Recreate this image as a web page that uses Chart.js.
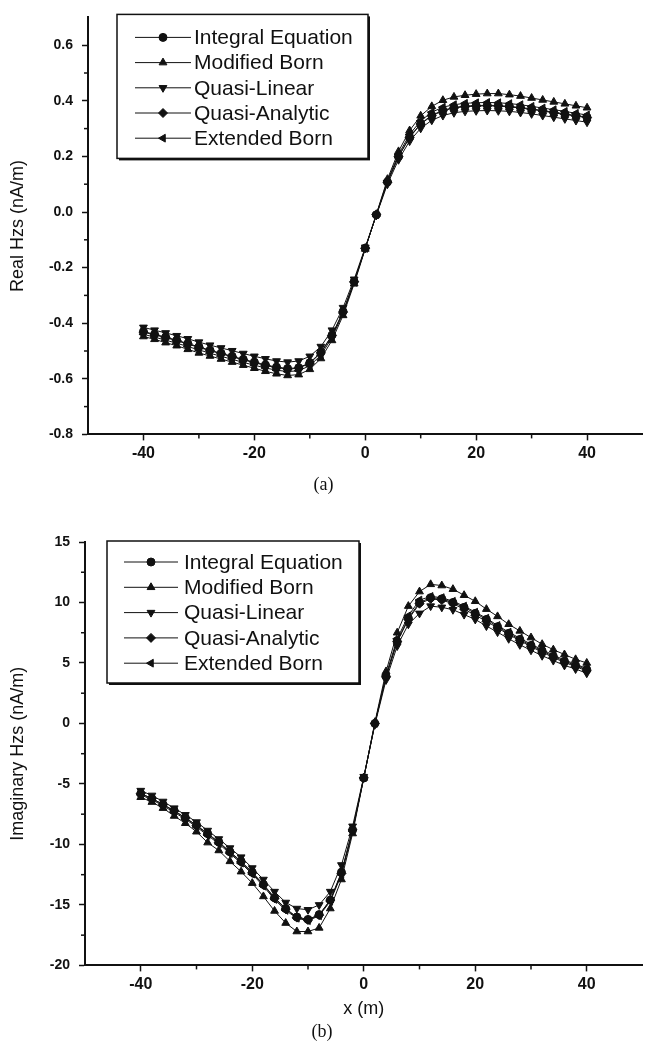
<!DOCTYPE html>
<html>
<head>
<meta charset="utf-8">
<script src="https://cdn.jsdelivr.net/npm/chart.js@4.4.1/dist/chart.umd.min.js"></script>
<style>
  body { margin: 0; background: #fff; }
  .plot { position: absolute; left: 0; }
</style>
</head>
<body>
<div class="plot" style="top:0"><canvas id="realChart" width="648" height="500"></canvas></div>
<div class="plot" style="top:520px"><canvas id="imagChart" width="648" height="537"></canvas></div>
<script>
//
// data: profile positions (m) and Hzs for the five methods
//
const xPos = [-40, -38, -36, -34, -32, -30, -28, -26, -24, -22, -20, -18, -16, -14, -12, -10, -8, -6, -4, -2,
    0, 2, 4, 6, 8, 10, 12, 14, 16, 18, 20, 22, 24, 26, 28, 30, 32, 34, 36, 38, 40];

const seriesNames = ['Integral Equation', 'Modified Born', 'Quasi-Linear', 'Quasi-Analytic', 'Extended Born'];

// real part (nA/m)
const realIE = [-0.430, -0.440, -0.450, -0.461, -0.473, -0.485, -0.497, -0.508, -0.519, -0.530, -0.540, -0.550, -0.558, -0.563, -0.560, -0.542, -0.505, -0.443, -0.358, -0.250,
    -0.130, -0.010, 0.108, 0.200, 0.270, 0.318, 0.348, 0.366, 0.376, 0.381, 0.383, 0.384, 0.383, 0.380, 0.376, 0.371, 0.365, 0.359, 0.353, 0.347, 0.341];
const realMB = [-0.448, -0.458, -0.470, -0.481, -0.494, -0.507, -0.518, -0.529, -0.540, -0.551, -0.562, -0.573, -0.582, -0.588, -0.585, -0.566, -0.527, -0.462, -0.372, -0.258,
    -0.133, -0.008, 0.118, 0.218, 0.293, 0.346, 0.380, 0.402, 0.414, 0.420, 0.424, 0.426, 0.426, 0.422, 0.417, 0.410, 0.403, 0.396, 0.389, 0.382, 0.375];
const realQL = [-0.415, -0.425, -0.435, -0.445, -0.456, -0.468, -0.479, -0.489, -0.499, -0.509, -0.519, -0.528, -0.536, -0.540, -0.536, -0.519, -0.484, -0.425, -0.344, -0.242,
    -0.127, -0.012, 0.100, 0.188, 0.255, 0.301, 0.330, 0.347, 0.357, 0.362, 0.364, 0.365, 0.364, 0.362, 0.358, 0.353, 0.347, 0.341, 0.335, 0.329, 0.323];
const realQA = [-0.432, -0.442, -0.452, -0.463, -0.475, -0.487, -0.499, -0.510, -0.521, -0.532, -0.542, -0.552, -0.560, -0.565, -0.562, -0.544, -0.507, -0.445, -0.360, -0.251,
    -0.130, -0.010, 0.107, 0.199, 0.268, 0.316, 0.346, 0.364, 0.374, 0.379, 0.381, 0.382, 0.381, 0.378, 0.374, 0.369, 0.363, 0.357, 0.351, 0.345, 0.339];
const realEB = [-0.440, -0.450, -0.461, -0.472, -0.484, -0.496, -0.508, -0.519, -0.530, -0.541, -0.551, -0.561, -0.569, -0.574, -0.571, -0.553, -0.515, -0.452, -0.364, -0.253,
    -0.131, -0.009, 0.112, 0.207, 0.279, 0.328, 0.359, 0.377, 0.386, 0.391, 0.393, 0.394, 0.393, 0.390, 0.386, 0.380, 0.374, 0.368, 0.362, 0.355, 0.349];

// imaginary part (nA/m)
const imagIE = [-5.8, -6.2, -6.7, -7.2, -7.8, -8.4, -9.1, -9.8, -10.6, -11.4, -12.3, -13.3, -14.4, -15.3, -16.0, -16.2, -15.8, -14.6, -12.3, -8.8,
    -4.5, 0.0, 3.9, 6.8, 8.7, 10.0, 10.4, 10.3, 10.0, 9.6, 9.1, 8.6, 8.0, 7.45, 6.95, 6.45, 6.0, 5.55, 5.15, 4.8, 4.45];
const imagMB = [-6.1, -6.5, -7.0, -7.65, -8.25, -8.95, -9.85, -10.5, -11.4, -12.25, -13.2, -14.3, -15.5, -16.5, -17.2, -17.2, -16.9, -15.3, -12.9, -9.1,
    -4.5, 0.1, 4.3, 7.5, 9.7, 10.9, 11.5, 11.4, 11.1, 10.6, 10.1, 9.45, 8.85, 8.2, 7.65, 7.1, 6.55, 6.1, 5.7, 5.3, 5.0];
const imagQL = [-5.55, -5.95, -6.45, -7.0, -7.55, -8.15, -8.85, -9.55, -10.3, -11.05, -11.95, -12.9, -13.9, -14.8, -15.3, -15.4, -15.0, -13.9, -11.7, -8.5,
    -4.4, -0.1, 3.6, 6.4, 8.2, 9.1, 9.7, 9.6, 9.4, 9.0, 8.6, 8.05, 7.55, 7.0, 6.5, 6.05, 5.6, 5.2, 4.8, 4.5, 4.15];
const imagQA = [-5.8, -6.2, -6.7, -7.25, -7.8, -8.45, -9.15, -9.85, -10.65, -11.45, -12.35, -13.35, -14.45, -15.35, -16.05, -16.25, -15.85, -14.6, -12.4, -8.8,
    -4.5, 0.0, 3.85, 6.75, 8.6, 9.9, 10.3, 10.2, 9.9, 9.45, 8.95, 8.45, 7.9, 7.35, 6.85, 6.35, 5.9, 5.45, 5.05, 4.7, 4.35];
const imagEB = [-5.9, -6.3, -6.8, -7.35, -7.9, -8.55, -9.25, -9.95, -10.75, -11.55, -12.45, -13.45, -14.55, -15.45, -16.1, -16.3, -15.9, -14.7, -12.5, -8.9,
    -4.5, 0.0, 4.0, 7.0, 8.9, 10.2, 10.5, 10.4, 10.1, 9.7, 9.2, 8.7, 8.1, 7.55, 7.05, 6.55, 6.1, 5.65, 5.25, 4.9, 4.55];

const xTicks = [-40, -20, 0, 20, 40];
const realTicks = [-0.8, -0.6, -0.4, -0.2, 0.0, 0.2, 0.4, 0.6];
const imagTicks = [-20, -15, -10, -5, 0, 5, 10, 15];


const SANS = "'Liberation Sans Narrow', 'Liberation Sans', Arial, sans-serif";
const SERIF = "'Liberation Serif', 'Times New Roman', serif";
const INK = '#111';

Chart.defaults.font.family = SANS;
Chart.defaults.color = INK;

// marker per method: circle, up / down / left triangle, diamond
const markers = [
    { style: 'circle', rot: 0, r: 4 },
    { style: 'triangle', rot: 0, r: 4.5 },
    { style: 'triangle', rot: 180, r: 4.5 },
    { style: 'rectRot', rot: 0, r: 4.5 },
    { style: 'triangle', rot: -90, r: 4.5 },
];

function makeDatasets(values) {
    return seriesNames.map((name, i) => ({
        label: name,
        data: xPos.map((x, k) => ({ x: x, y: values[i][k] })),
        borderColor: INK,
        backgroundColor: INK,
        borderWidth: 1,
        pointStyle: markers[i].style,
        pointRotation: markers[i].rot,
        pointRadius: markers[i].r,
        pointBorderWidth: 1,
        pointBorderColor: INK,
        pointBackgroundColor: INK,
        tension: 0,
        fill: false,
    }));
}


//
// minor ticks between the labelled ones
//
const minorTicks = {
    id: 'minorTicks',
    afterDraw(chart, args, opts) {
        const ctx = chart.ctx;
        ctx.save();
        ctx.strokeStyle = INK;
        ctx.lineWidth = 1.5;
        ['x', 'y'].forEach(id => {
            const s = chart.scales[id];
            const step = opts[id];
            const n0 = Math.ceil(s.min / step - 1e-6);
            const n1 = Math.floor(s.max / step + 1e-6);
            for (let n = n0; n <= n1; n++) {
                if (n % 2 === 0) continue;
                const v = n * step;
                if (Math.abs(v - s.min) < 1e-6 || Math.abs(v - s.max) < 1e-6) continue;
                ctx.beginPath();
                if (id === 'x') {
                    const px = s.getPixelForValue(v);
                    ctx.moveTo(px, s.top);
                    ctx.lineTo(px, s.top + 4);
                } else {
                    const py = s.getPixelForValue(v);
                    ctx.moveTo(s.right, py);
                    ctx.lineTo(s.right - 4, py);
                }
                ctx.stroke();
            }
        });
        ctx.restore();
    }
};


//
// framed legend inside the plot area
//
const boxedLegend = {
    id: 'boxedLegend',
    afterDatasetsDraw(chart, args, o) {
        const ctx = chart.ctx;
        const a = chart.chartArea;
        const x0 = a.left + o.dx;
        const y0 = a.top + o.dy;
        ctx.save();
        ctx.fillStyle = INK;
        ctx.fillRect(x0 + 2, y0 + 2, o.w, o.h);
        ctx.fillStyle = '#fff';
        ctx.fillRect(x0, y0, o.w, o.h);
        ctx.strokeStyle = INK;
        ctx.lineWidth = 1.5;
        ctx.strokeRect(x0, y0, o.w, o.h);

        ctx.font = o.fontSize + 'px ' + SANS;
        ctx.textBaseline = 'middle';
        chart.data.datasets.forEach((ds, i) => {
            const cy = y0 + o.first + i * o.row;
            ctx.lineWidth = 1;
            ctx.beginPath();
            ctx.moveTo(x0 + o.lineFrom, cy);
            ctx.lineTo(x0 + o.lineTo, cy);
            ctx.stroke();
            ctx.fillStyle = INK;
            Chart.helpers.drawPoint(ctx, {
                pointStyle: ds.pointStyle,
                rotation: ds.pointRotation,
                radius: ds.pointRadius,
                borderWidth: 1,
            }, x0 + (o.lineFrom + o.lineTo) / 2, cy);
            ctx.fillText(ds.label, x0 + o.textX, cy + 1);
        });
        ctx.restore();
    }
};


function makeOptions(cfg) {
    return {
        responsive: false,
        animation: false,
        layout: { padding: { top: cfg.padTop, right: cfg.padRight, left: 0, bottom: 0 } },
        plugins: {
            legend: { display: false },
            tooltip: { enabled: false },
            title: {
                display: true,
                text: cfg.caption,
                position: 'bottom',
                color: INK,
                font: { family: SERIF, size: 18, weight: 'normal' },
                padding: cfg.captionPad,
            },
            minorTicks: { x: 10, y: cfg.yMinor },
            boxedLegend: cfg.legend,
        },
        scales: {
            x: {
                type: 'linear',
                min: -50,
                max: 50,
                afterBuildTicks: s => { s.ticks = xTicks.map(v => ({ value: v })); },
                afterFit: s => { s.height = cfg.xHeight; },
                border: { color: INK, width: 2 },
                grid: { drawOnChartArea: false, tickLength: 6, tickColor: INK, tickWidth: 1.5 },
                ticks: { font: { size: 16, weight: 'bold' }, padding: 4, maxRotation: 0, color: INK },
                title: cfg.xTitle,
            },
            y: {
                min: cfg.yMin,
                max: cfg.yMax,
                afterBuildTicks: s => { s.ticks = cfg.yTicks.map(v => ({ value: v })); },
                afterFit: s => { s.width = cfg.yWidth; },
                border: { color: INK, width: 2 },
                grid: { drawOnChartArea: false, tickLength: 6, tickColor: INK, tickWidth: 1.5 },
                ticks: { font: { size: 14, weight: 'bold' }, padding: cfg.yPad, color: INK, callback: cfg.yLabel },
                title: {
                    display: true,
                    text: cfg.yTitle,
                    color: INK,
                    font: { size: 18 },
                    padding: { top: 7, bottom: 0 },
                },
            },
        },
    };
}


//
// (a) real part
//
new Chart(document.getElementById('realChart').getContext('2d'), {
    type: 'line',
    data: { datasets: makeDatasets([realIE, realMB, realQL, realQA, realEB]) },
    options: makeOptions({
        padTop: 12, padRight: 1,
        caption: '(a)', captionPad: { top: 4, bottom: 4 },
        xHeight: 36, xTitle: { display: false },
        yMin: -0.8, yMax: 0.7, yTicks: realTicks, yMinor: 0.1,
        yWidth: 88, yPad: 9,
        yLabel: v => v.toFixed(1),
        yTitle: 'Real Hzs (nA/m)',
        legend: { dx: 29, dy: -3, w: 251, h: 144, first: 23, row: 25.2, lineFrom: 18, lineTo: 74, textX: 77, fontSize: 21 },
    }),
    plugins: [minorTicks, boxedLegend],
});


//
// (b) imaginary part
//
new Chart(document.getElementById('imagChart').getContext('2d'), {
    type: 'line',
    data: { datasets: makeDatasets([imagIE, imagMB, imagQL, imagQA, imagEB]) },
    options: makeOptions({
        padTop: 22, padRight: 4,
        caption: '(b)', captionPad: { top: 2, bottom: 14 },
        xHeight: 54, xTitle: { display: true, text: 'x (m)', color: INK, font: { size: 18 }, padding: { top: 0, bottom: 0 } },
        yMin: -20, yMax: 15, yTicks: imagTicks, yMinor: 2.5,
        yWidth: 85, yPad: 9,
        yLabel: v => String(v),
        yTitle: 'Imaginary Hzs (nA/m)',
        legend: { dx: 22, dy: -1, w: 252, h: 142, first: 21, row: 25.3, lineFrom: 17, lineTo: 71, textX: 77, fontSize: 21 },
    }),
    plugins: [minorTicks, boxedLegend],
});
</script>
</body>
</html>
